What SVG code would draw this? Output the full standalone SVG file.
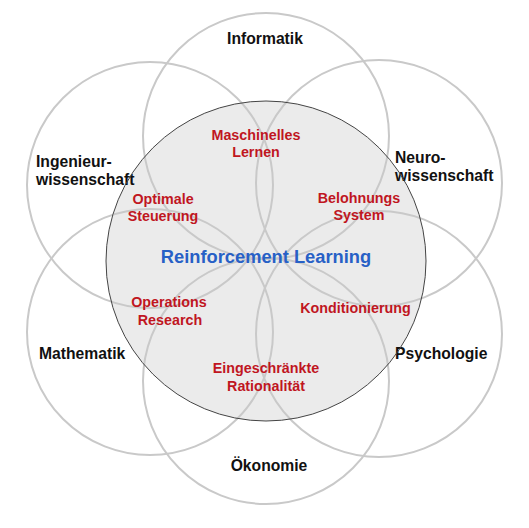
<svg xmlns="http://www.w3.org/2000/svg" width="529" height="528" viewBox="0 0 529 528">
<style>
.ring{fill:none;stroke:#c9c9c9;stroke-width:2}
.core{fill:#ebebeb;stroke:none}
.coreline{fill:none;stroke:#444;stroke-width:1}
text{font-family:"Liberation Sans",Arial,sans-serif;font-weight:bold}
.field{font-size:15.7px;fill:#111}
.topic{font-size:14.3px;fill:#c0161f;text-anchor:middle}
.title{font-size:18.3px;fill:#2760c6;text-anchor:middle}
</style>
<rect width="529" height="528" fill="#fff"/>
<g id="rl-core-fill"><circle class="core" cx="266" cy="261" r="160"/></g>
<g id="informatik"><circle class="ring" cx="266" cy="136" r="123"/><text class="field" x="265" y="44" text-anchor="middle">Informatik</text></g>
<g id="oekonomie"><circle class="ring" cx="266" cy="381" r="123"/><text class="field" x="269" y="471" text-anchor="middle">Ökonomie</text></g>
<g id="ingenieurwissenschaft"><circle class="ring" cx="150" cy="185" r="123"/><text class="field" x="36" y="167">Ingenieur-</text><text class="field" x="36" y="185">wissenschaft</text></g>
<g id="neurowissenschaft"><circle class="ring" cx="379" cy="183" r="123"/><text class="field" x="395" y="163">Neuro-</text><text class="field" x="395" y="181">wissenschaft</text></g>
<g id="mathematik"><circle class="ring" cx="150" cy="332" r="123"/><text class="field" x="39" y="359">Mathematik</text></g>
<g id="psychologie"><circle class="ring" cx="379" cy="334" r="123"/><text class="field" x="395" y="359">Psychologie</text></g>
<g id="rl-core"><circle class="coreline" cx="266" cy="261" r="160"/>
<text class="title" x="266" y="263">Reinforcement Learning</text>
<text class="topic" x="256" y="140">Maschinelles</text><text class="topic" x="256" y="157">Lernen</text>
<text class="topic" x="163" y="204">Optimale</text><text class="topic" x="163" y="221">Steuerung</text>
<text class="topic" x="359" y="203">Belohnungs</text><text class="topic" x="359" y="220">System</text>
<text class="topic" x="169" y="307">Operations</text><text class="topic" x="170" y="325">Research</text>
<text class="topic" x="355.5" y="313">Konditionierung</text>
<text class="topic" x="266" y="373">Eingeschränkte</text><text class="topic" x="266" y="391">Rationalität</text>
</g>
</svg>
